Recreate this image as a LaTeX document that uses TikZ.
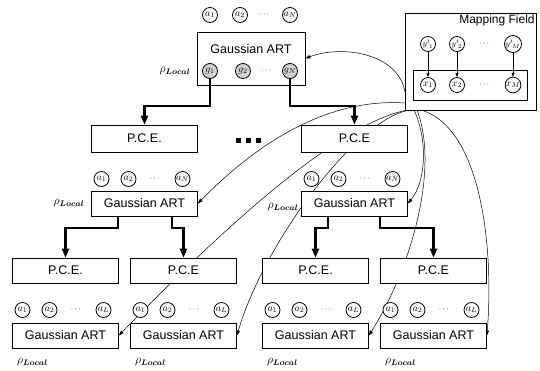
\documentclass[tikz,border=0pt]{standalone}
\usepackage{amsmath,amssymb}
\usepackage{fontspec}
\setmainfont{Liberation Sans}
\usetikzlibrary{arrows.meta,backgrounds}
\newcommand{\rholoc}{$\rho_{\boldsymbol{Local}}$}
\tikzset{
  gart/.style={draw,line width=0.7pt,fill=white,minimum width=106pt,minimum height=25pt,inner sep=0pt,font=\fontsize{12.5}{14}\selectfont},
  pce/.style={gart,minimum height=27pt},
  unit/.style={circle,draw,line width=0.8pt,fill=white,minimum size=15pt,inner sep=0pt,font=\normalsize},
  gunit/.style={unit,fill=gray!35},
  dts/.style={font=\footnotesize,inner sep=0pt},
  rho/.style={font=\fontsize{12}{14}\selectfont,inner sep=0pt},
  thk/.style={line width=2.2pt,-{Triangle[length=9pt,width=7pt]}},
  fan/.style={line width=0.5pt,-{Triangle[length=5pt,width=3.5pt]}},
  map/.style={line width=0.5pt,-{Triangle[length=4pt,width=3pt]}}
}

\begin{document}
\begin{tikzpicture}[x=1pt,y=-1pt]
\useasboundingbox (0,0) rectangle (540,370);
% top module
\node[gart,minimum width=108pt,minimum height=53pt] (gtop) at (251,58.5) {};
\node[font=\fontsize{12.5}{14}\selectfont] (gtoptxt) at (251,49) {Gaussian ART};
\node[unit] (ta1) at (210,15) {$a_1$};
\node[unit] (ta2) at (240,15) {$a_2$};
\node[dts] (tadots) at (265,15) {$\cdots$};
\node[unit] (taN) at (290,15) {$a_N$};
\node[gunit] (tg1) at (210,71) {$g_1$};
\node[gunit] (tg2) at (243,71) {$g_2$};
\node[dts] (tgdots) at (267,71) {$\cdots$};
\node[gunit] (tgN) at (290,71) {$g_N$};
\node[rho] (rtop) at (175,71) {\rholoc};

% mapping field
\node[draw,line width=0.7pt,fill=white,minimum width=131pt,minimum height=97pt] (mf) at (470.5,61.5) {};
\node[anchor=north east,inner sep=1.5pt,font=\fontsize{12}{13}\selectfont] (mftitle) at (mf.north east) {Mapping Field};
\node[draw,line width=0.7pt,minimum width=114pt,minimum height=30pt] (mfin) at (470,85) {};
\node[unit,font=\footnotesize] (y1) at (428,44) {${y^t}_{\!1}$};
\node[unit,font=\footnotesize] (y2) at (457,44) {${y^t}_{\!2}$};
\node[dts] (ydots) at (485,44) {$\cdots$};
\node[unit,font=\footnotesize] (yM) at (513,44) {${y^t}_{\!M}$};
\node[unit] (x1) at (428,85) {$x_1$};
\node[unit] (x2) at (457,85) {$x_2$};
\node[dts] (xdots) at (485,85) {$\cdots$};
\node[unit] (xM) at (513,85) {$x_M$};
\draw[map] (y1) -- (x1);
\draw[map] (y2) -- (x2);
\draw[map] (yM) -- (xM);

% first level
\node[pce] (p1) at (144.5,138.5) {P.C.E.};
\node[pce] (p2) at (354.5,138.5) {P.C.E};
\node[inner sep=0pt] (sq) at (248,140) {\rule{5pt}{5pt}\hspace{5pt}\rule{5pt}{5pt}\hspace{5pt}\rule{5pt}{5pt}};
\node[gart] (g1) at (144.5,203.5) {Gaussian ART};
\node[gart] (g2) at (354.5,203.5) {Gaussian ART};
\foreach \g in {g1,g2}{
  \node[unit] (\g-1) at ([xshift=-43pt,yshift=24.5pt]\g.center) {$a_1$};
  \node[unit] (\g-2) at ([xshift=-16pt,yshift=24.5pt]\g.center) {$a_2$};
  \node[dts] (\g-d) at ([xshift=11pt,yshift=24.5pt]\g.center) {$\cdots$};
  \node[unit] (\g-N) at ([xshift=38pt,yshift=24.5pt]\g.center) {$a_N$};
}
\node[rho] (rg1) at (69,203) {\rholoc};
\node[rho] (rg2) at (283,207) {\rholoc};

% second level
\foreach \n/\cx/\lab in {1/65.5/P.C.E.,2/183.5/P.C.E,3/315.5/P.C.E.,4/433.5/P.C.E}{
  \node[pce,minimum height=25pt] (q\n) at (\cx,270.5) {\lab};
  \node[gart] (h\n) at (\cx,335.5) {Gaussian ART};
  \node[unit] (h\n-1) at (\cx-43,310) {$a_1$};
  \node[unit] (h\n-2) at (\cx-16,310) {$a_2$};
  \node[dts] (h\n-d) at (\cx+11,310) {$\cdots$};
  \node[unit] (h\n-L) at (\cx+38,310) {$a_L$};
  \node[rho] (rh\n) at (\cx-33,362) {\rholoc};
}

% tree arrows
\draw[thk] (tg1.south) -- ++(0,27) -| (p1.north);
\draw[thk] (tgN.south) -- ++(0,27) -| (p2.north);
\draw[thk] ([xshift=-26.5pt]g1.south) -- ++(0,12) -| (q1.north);
\draw[thk] ([xshift=27.5pt]g1.south) -- ++(0,12) -| (q2.north);
\draw[thk] ([xshift=-26.5pt]g2.south) -- ++(0,12) -| (q3.north);
\draw[thk] ([xshift=25.5pt]g2.south) -- ++(0,12) -| (q4.north);

% links from the mapping field
\coordinate (mfa) at (405,92);
\coordinate (mfb) at (405,103);
\coordinate (mfc) at (408,110);
\coordinate (mfd) at (411,110);
\coordinate (mfe) at (414,110);
\coordinate (mff) at (417,110);
\coordinate (mfg) at (421,110);
\begin{scope}[on background layer]
\draw[fan] (mfa) .. controls (398,52) and (340,45) .. (gtop.east);
\draw[fan] (mfb) .. controls (330,98) and (260,140) .. (g1.east);
\draw[fan] (mfc) .. controls (350,120) and (250,200) .. (h1.east);
\draw[fan] (mfd) .. controls (360,115) and (265,240) .. (h2.east);
\draw[fan] (mfe) .. controls (428,140) and (426,182) .. (g2.east);
\draw[fan] (mff) .. controls (440,170) and (410,270) .. (h3.east);
\draw[fan] (mfg) .. controls (482,128) and (494,250) .. (h4.east);
\end{scope}
\end{tikzpicture}
\end{document}
